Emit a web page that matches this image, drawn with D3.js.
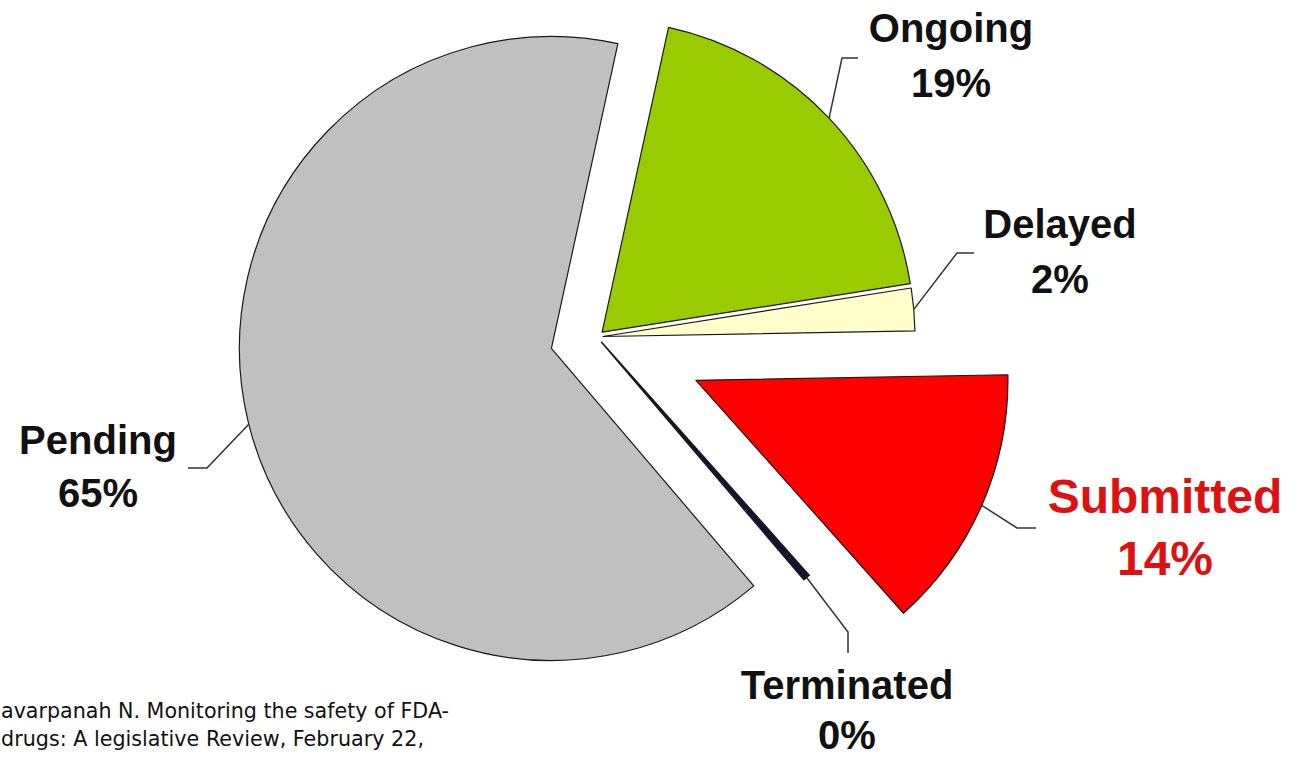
<!DOCTYPE html>
<html>
<head>
<meta charset="utf-8">
<script src="https://cdn.jsdelivr.net/npm/d3@7"></script>
<style>
  html, body { margin: 0; padding: 0; background: #fff; }
  svg { display: block; }
</style>
</head>
<body>
<svg id="chart" width="1300" height="759"></svg>
<script>
// ---- data ----
const categories = ["Ongoing", "Delayed", "Submitted", "Terminated", "Pending"];
const shares = [19.1, 2.2, 13.7, 0.35, 64.65];        // estimated slice sizes (%)
const pctLabels = ["19%", "2%", "14%", "0%", "65%"];   // printed labels
const citationLines = [
  "avarpanah N. Monitoring the safety of FDA-",
  "drugs: A legislative Review, February 22,"
];

// ---- styles / layout ----
const colors = {
  Ongoing: "#99CC00", Delayed: "#FFFFCC", Submitted: "#FF0000",
  Terminated: "#1A1033", Pending: "#C0C0C0"
};
const center = { x: 597, y: 337 };
const radius = 312;
const startDeg = 12.3;
const explode = { Ongoing: 7, Delayed: 6, Submitted: 108, Terminated: 7, Pending: 47 };
const labelLayout = {
  Ongoing:    { x: 951,  y1: 42,  y2: 97,  elbow: [[842, 58], [858, 58]],   size: 40, color: "#111" },
  Delayed:    { x: 1060, y1: 238, y2: 293, elbow: [[957, 253], [974, 253]], size: 40, color: "#111" },
  Submitted:  { x: 1165, y1: 513, y2: 575, elbow: [[1017, 528], [1036, 528]], size: 48, color: "#DD1111" },
  Terminated: { x: 847,  y1: 699, y2: 749, elbow: [[848, 632], [848, 653]], size: 40, color: "#111" },
  Pending:    { x: 98,   y1: 454, y2: 507, elbow: [[207, 468], [188, 468]], size: 40, color: "#111" }
};

const svg = d3.select("#chart");
svg.append("rect").attr("width", 1300).attr("height", 759).attr("fill", "#fff");

const data = categories.map((c, i) => ({ cat: c, value: shares[i], label: pctLabels[i] }));

const pie = d3.pie()
  .sort(null)
  .value(d => d.value)
  .startAngle(startDeg * Math.PI / 180)
  .endAngle(startDeg * Math.PI / 180 + 2 * Math.PI);

const arcs = pie(data);
const arc = d3.arc().innerRadius(0).outerRadius(radius);

function offset(a) {
  const mid = (a.startAngle + a.endAngle) / 2;
  const e = explode[a.data.cat];
  return [center.x + e * Math.sin(mid), center.y - e * Math.cos(mid)];
}

// draw order: pending first, then others
const drawOrder = ["Pending", "Ongoing", "Delayed", "Submitted", "Terminated"];
const g = svg.append("g");
drawOrder.forEach(cat => {
  const a = arcs.find(d => d.data.cat === cat);
  const [ox, oy] = offset(a);
  g.append("path")
    .attr("transform", `translate(${ox},${oy})`)
    .attr("d", arc(a))
    .attr("fill", colors[cat])
    .attr("stroke", "#1a1a1a")
    .attr("stroke-width", cat === "Terminated" ? 1.6 : 1.2)
    .attr("stroke-linejoin", "round");
});

// leader lines + labels
const labelsG = svg.append("g");
arcs.forEach(a => {
  const cat = a.data.cat;
  const L = labelLayout[cat];
  const [ox, oy] = offset(a);
  const mid = (a.startAngle + a.endAngle) / 2;
  const sx = ox + radius * Math.sin(mid);
  const sy = oy - radius * Math.cos(mid);
  const pts = [[sx, sy]].concat(L.elbow);
  labelsG.append("path")
    .attr("d", d3.line()(pts))
    .attr("fill", "none")
    .attr("stroke", "#333")
    .attr("stroke-width", 1.5);

  labelsG.append("text")
    .attr("x", L.x).attr("y", L.y1)
    .attr("text-anchor", "middle")
    .attr("font-family", "'Liberation Sans', Arial, sans-serif")
    .attr("font-weight", "bold")
    .attr("font-size", L.size)
    .attr("fill", L.color)
    .text(cat);
  labelsG.append("text")
    .attr("x", L.x).attr("y", L.y2)
    .attr("text-anchor", "middle")
    .attr("font-family", "'Liberation Sans', Arial, sans-serif")
    .attr("font-weight", "bold")
    .attr("font-size", L.size)
    .attr("fill", L.color)
    .text(a.data.label);
});

// citation
const citeWidths = [448, 423];
citationLines.forEach((t, i) => {
  svg.append("text")
    .attr("x", 1)
    .attr("y", 718 + i * 28)
    .attr("font-family", "'DejaVu Sans', Verdana, sans-serif")
    .attr("font-size", 20.5)
    .attr("fill", "#111")
    .attr("textLength", citeWidths[i])
    .attr("lengthAdjust", "spacingAndGlyphs")
    .text(t);
});
</script>
</body>
</html>
